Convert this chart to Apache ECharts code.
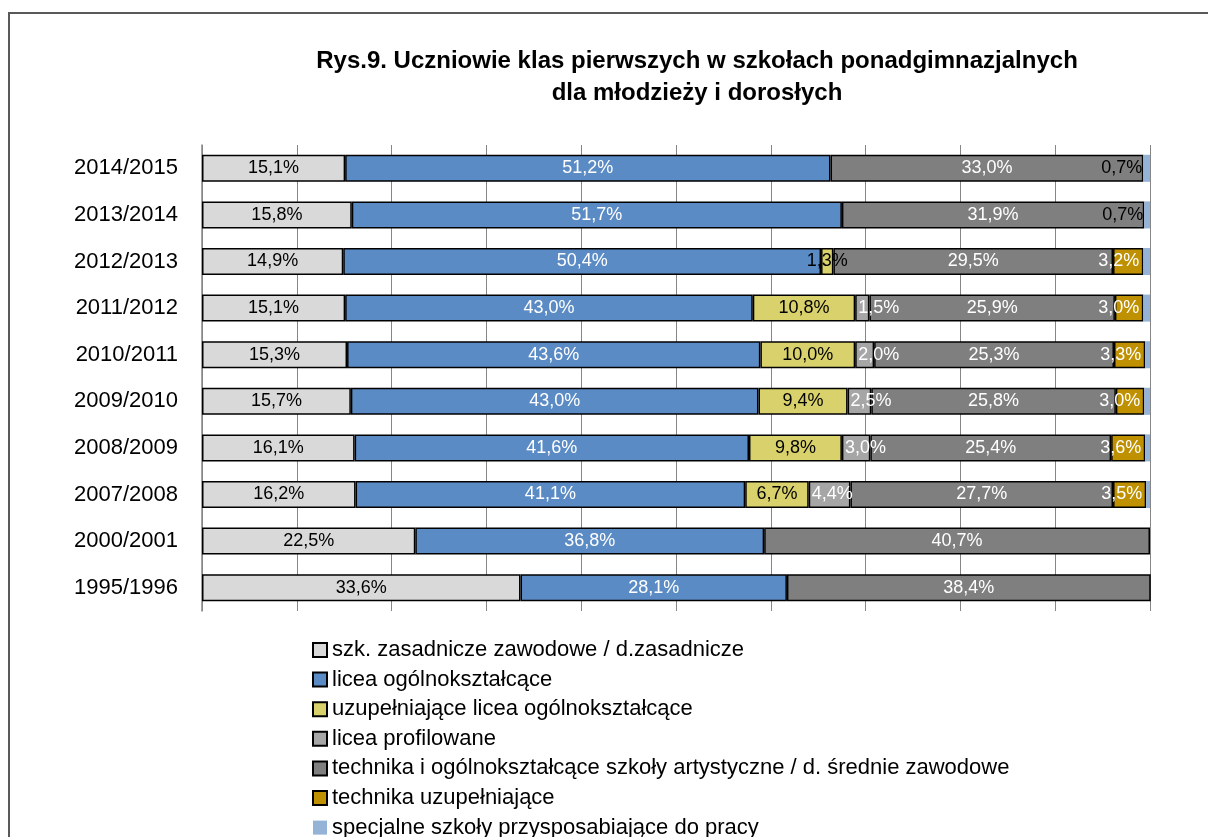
<!DOCTYPE html>
<html>
<head>
<meta charset="utf-8">
<title>Rys.9</title>
<script src="https://cdn.jsdelivr.net/npm/echarts/dist/echarts.min.js"></script>
<style>
    html, body { margin: 0; padding: 0; background: #fff; }
    #chart { width: 1208px; height: 837px; }
</style>
</head>
<body>
<div id="chart"></div>
<script>
// rows, top to bottom
const years = ["2014/2015", "2013/2014", "2012/2013", "2011/2012", "2010/2011",
               "2009/2010", "2008/2009", "2007/2008", "2000/2001", "1995/1996"];

// shares in %, null = type of school did not exist that year
const zasadnicze   = [15.1, 15.8, 14.9, 15.1, 15.3, 15.7, 16.1, 16.2, 22.5, 33.6];
const licea        = [51.2, 51.7, 50.4, 43.0, 43.6, 43.0, 41.6, 41.1, 36.8, 28.1];
const uzupLicea    = [null, null, 1.3, 10.8, 10.0, 9.4, 9.8, 6.7, null, null];
const profilowane  = [null, null, null, 1.5, 2.0, 2.5, 3.0, 4.4, null, null];
const technika     = [33.0, 31.9, 29.5, 25.9, 25.3, 25.8, 25.4, 27.7, 40.7, 38.4];
const technikaUzup = [null, null, 3.2, 3.0, 3.3, 3.0, 3.6, 3.5, null, null];
const specjalne    = [0.7, 0.7, 0.7, 0.7, 0.5, 0.6, 0.5, 0.4, null, null];

// only these rows carry a label for the "specjalne" segment
const specjalneLabelled = ["2014/2015", "2013/2014"];

const seriesNames = [
    "szk. zasadnicze zawodowe / d.zasadnicze",
    "licea ogólnokształcące",
    "uzupełniające licea ogólnokształcące",
    "licea profilowane",
    "technika i ogólnokształcące szkoły artystyczne / d. średnie zawodowe",
    "technika uzupełniające",
    "specjalne szkoły przysposabiające do pracy"
];

const fontFamily = "'Liberation Sans', Arial, sans-serif";
const pct = p => p.value.toFixed(1).replace(".", ",") + "%";

function bar(name, data, color, labelColor, position, distance, border) {
    return {
        name: name,
        type: "bar",
        stack: "total",
        barCategoryGap: "42%",
        data: data,
        itemStyle: {
            color: color,
            borderColor: border ? "#000" : color,
            borderWidth: border ? 1.5 : 0
        },
        label: {
            show: true,
            position: position,
            distance: distance,
            formatter: pct,
            color: labelColor,
            fontFamily: fontFamily,
            fontSize: 18
        },
        emphasis: { disabled: true }
    };
}

const specjalneSeries = bar(seriesNames[6], specjalne.map((v, i) => ({
    value: v,
    label: { show: v !== null && specjalneLabelled.indexOf(years[i]) >= 0 }
})), "#95b3d7", "#000", "left", 1, false);

const options = {
    animation: false,
    backgroundColor: "#fff",
    title: {
        text: "Rys.9. Uczniowie klas pierwszych w szkołach ponadgimnazjalnych\ndla młodzieży i dorosłych",
        left: 692,
        top: 40,
        textAlign: "center",
        textStyle: {
            fontFamily: fontFamily,
            fontSize: 24,
            fontWeight: "bold",
            lineHeight: 32,
            color: "#000"
        }
    },
    legend: {
        orient: "vertical",
        left: 307,
        top: 634,
        height: 260,
        itemWidth: 14,
        itemHeight: 14,
        itemGap: 7.6,
        icon: "rect",
        selectedMode: false,
        data: seriesNames,
        textStyle: {
            fontFamily: fontFamily,
            fontSize: 22,
            lineHeight: 20,
            color: "#000"
        }
    },
    grid: {
        left: 202,
        right: 58,
        top: 145,
        bottom: 226
    },
    xAxis: {
        type: "value",
        min: 0,
        max: 100,
        interval: 10,
        axisLabel: { show: false },
        axisLine: { show: false },
        axisTick: { show: false },
        splitLine: { lineStyle: { color: "#868686", width: 1 } }
    },
    yAxis: {
        type: "category",
        inverse: true,
        data: years,
        axisLine: { lineStyle: { color: "#868686", width: 1.5 } },
        axisTick: { show: false },
        axisLabel: {
            margin: 24,
            color: "#000",
            fontFamily: fontFamily,
            fontSize: 22
        }
    },
    series: [
        bar(seriesNames[0], zasadnicze, "#d9d9d9", "#000", "inside", 5, true),
        bar(seriesNames[1], licea, "#5b8bc5", "#fff", "inside", 5, true),
        bar(seriesNames[2], uzupLicea, "#d8d16c", "#000", "inside", 5, true),
        bar(seriesNames[3], profilowane, "#a6a6a6", "#fff", "insideLeft", 3, true),
        bar(seriesNames[4], technika, "#7f7f7f", "#fff", "inside", 5, true),
        bar(seriesNames[5], technikaUzup, "#bf9000", "#fff", "insideRight", 4, true),
        specjalneSeries
    ],
    graphic: [
        {
            // outer frame of the figure, its right and bottom sides fall outside the picture
            type: "rect",
            shape: { x: 9, y: 13, width: 1240, height: 860 },
            style: { fill: "none", stroke: "#595959", lineWidth: 2 },
            silent: true
        }
    ]
};

const chart = echarts.init(document.getElementById("chart"));
chart.setOption(options, true);
</script>
</body>
</html>
